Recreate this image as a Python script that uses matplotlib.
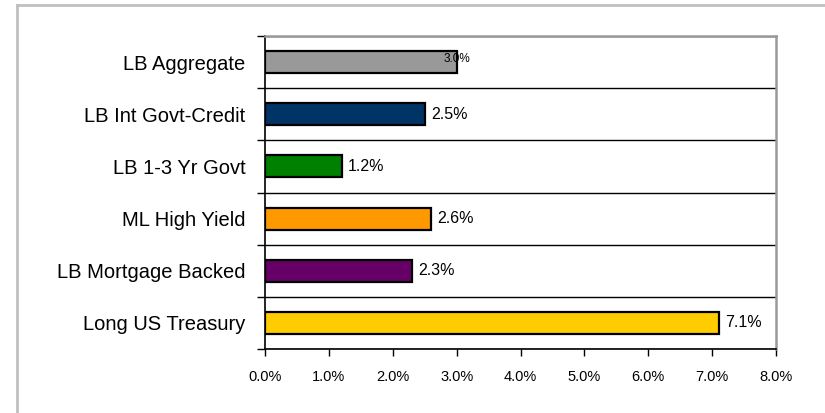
import numpy as np
import matplotlib.pyplot as plt
from matplotlib.lines import Line2D
from matplotlib.ticker import FixedLocator, FuncFormatter

plt.rcParams['font.family'] = ['Liberation Sans', 'DejaVu Sans']

categories = ['LB Aggregate', 'LB Int Govt-Credit', 'LB 1-3 Yr Govt',
              'ML High Yield', 'LB Mortgage Backed', 'Long US Treasury']
values = [3.0, 2.5, 1.2, 2.6, 2.3, 7.1]
colors = ['#999999', '#003366', '#008000', '#FF9900', '#660066', '#FFCC00']
xticks = [0, 1, 2, 3, 4, 5, 6, 7, 8]

fig = plt.figure(figsize=(8.25, 4.13), dpi=100)
ax = fig.add_axes([265 / 825, 1 - 349 / 413, (776 - 265) / 825, (349 - 36) / 413])

pos = np.arange(len(categories))
ax.barh(pos, values, height=0.42, color=colors, edgecolor='black', linewidth=1.6, zorder=3)

# value labels (first one sits on the bar end, smaller)
for i, v in enumerate(values):
    if i == 0:
        ax.text(v, i - 0.05, f'{v:.1f}%', ha='center', va='center', fontsize=8.5, zorder=4)
    else:
        ax.text(v + 0.1, i, f'{v:.1f}%', ha='left', va='center', fontsize=11.5, zorder=4)

ax.set_xlim(0, 8)
ax.set_ylim(len(categories) - 0.5, -0.5)
ax.set_xticks(xticks)
ax.xaxis.set_major_formatter(FuncFormatter(lambda x, p: f'{x:.1f}%'))
ax.tick_params(axis='x', direction='out', length=5, width=1, labelsize=10.5, pad=10, color='black')

ax.set_yticks(pos)
ax.set_yticklabels(categories, fontsize=14.5)
ax.tick_params(axis='y', which='major', length=0, pad=14)
ax.yaxis.set_minor_locator(FixedLocator(np.arange(-0.5, len(categories), 1.0)))
ax.tick_params(axis='y', which='minor', direction='out', length=6, width=1, color='black')
ax.grid(axis='y', which='minor', color='black', linewidth=1, zorder=1)

ax.spines['left'].set_color('black')
ax.spines['left'].set_linewidth(1.2)
ax.spines['bottom'].set_color('black')
ax.spines['bottom'].set_linewidth(1.2)
ax.spines['top'].set_color('#999999')
ax.spines['top'].set_linewidth(1.8)
ax.spines['right'].set_color('#999999')
ax.spines['right'].set_linewidth(1.8)

# outer chart border (left and top visible)
fig.add_artist(Line2D([17 / 825, 17 / 825], [0, 1 - 5 / 413], color='#C0C0C0', linewidth=2))
fig.add_artist(Line2D([17 / 825, 1], [1 - 5 / 413, 1 - 5 / 413], color='#C0C0C0', linewidth=2))

fig.savefig('out.png', dpi=100)
